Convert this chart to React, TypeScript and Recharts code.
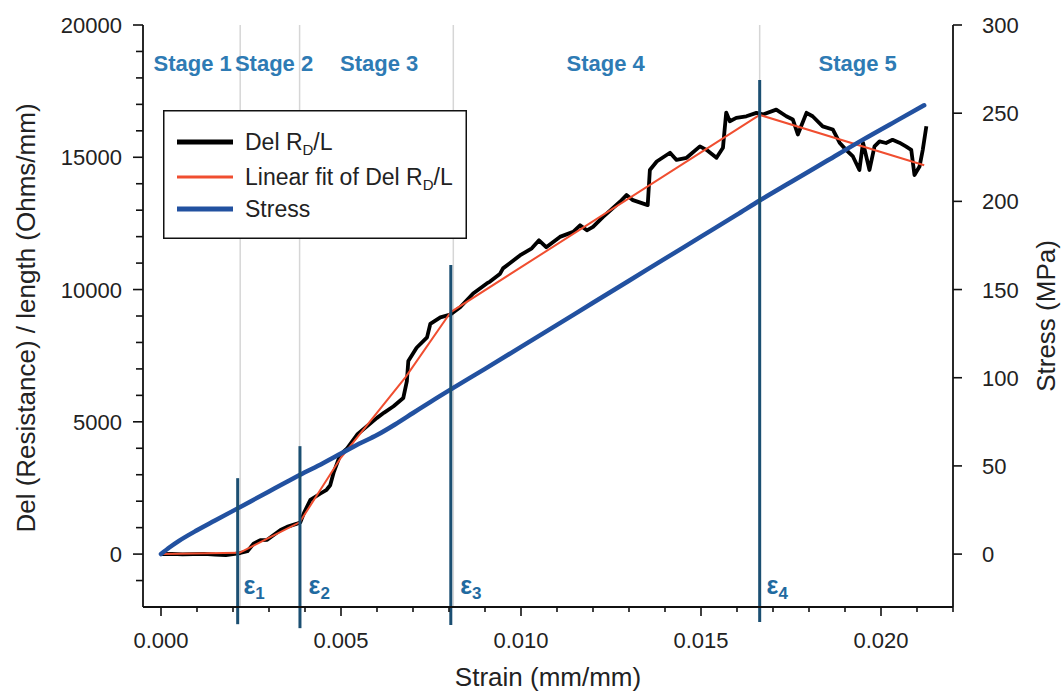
import React from 'react';
import {
  ComposedChart,
  Line,
  XAxis,
  YAxis,
  ReferenceLine,
  ReferenceDot,
  Legend,
} from 'recharts';

const FONT = '"Liberation Sans", Arial, Helvetica, sans-serif';
const STAGE_BLUE = '#2e7bb4';
const EPS_BLUE = '#1f6aa0';
const DARK_LINE = '#1b4f72';

// Del R_D/L measured curve (strain in mm/mm, value in Ohms/mm)
const DEL_STRAIN = [
  0, 0.0003, 0.0006, 0.0009, 0.0012, 0.0015, 0.0018, 0.002, 0.0022, 0.0024,
  0.00257, 0.00276, 0.00295, 0.00313, 0.00332, 0.0035, 0.00378, 0.00387, 0.00397, 0.00415,
  0.00443, 0.0046, 0.0047, 0.0048, 0.00498, 0.00517, 0.00545, 0.00572, 0.006, 0.0062,
  0.00646, 0.00673, 0.00683, 0.00687, 0.0071, 0.00739, 0.00748, 0.00776, 0.00803, 0.00831,
  0.00867, 0.00905, 0.00914, 0.00942, 0.0095, 0.00997, 0.0103, 0.0105, 0.0107, 0.01108,
  0.01145, 0.01164, 0.01183, 0.012, 0.01228, 0.01275, 0.01293, 0.01311, 0.01352, 0.01358,
  0.01377, 0.01414, 0.01432, 0.0146, 0.01497, 0.01515, 0.01543, 0.01561, 0.0157, 0.0158,
  0.01598, 0.01626, 0.01654, 0.01672, 0.01709, 0.01737, 0.01755, 0.01769, 0.01793, 0.0181,
  0.01838, 0.01866, 0.01885, 0.01903, 0.01922, 0.0194, 0.0195, 0.01968, 0.01982, 0.01996,
  0.02014, 0.02032, 0.02051, 0.02069, 0.02084, 0.02093, 0.02107, 0.02116, 0.02126,
];
const DEL_VALUE = [
  0, 10, -10, 0, 10, -20, -40, 0, 40, 110,
  390, 530, 540, 720, 910, 1030, 1150, 1200, 1550, 2050,
  2290, 2430, 2600, 3100, 3760, 4000, 4520, 4830, 5150, 5350,
  5590, 5900, 6540, 7300, 7800, 8190, 8700, 8950, 9050, 9330,
  9850, 10230, 10300, 10600, 10800, 11290, 11560, 11860, 11600, 11990,
  12180, 12430, 12240, 12370, 12750, 13320, 13570, 13380, 13190, 14520,
  14840, 15170, 14900, 14980, 15410, 15280, 14980, 15360, 16690, 16360,
  16490, 16550, 16680, 16620, 16800, 16550, 16430, 15860, 16680, 16550,
  16170, 16050, 15550, 15280, 15030, 14520, 15550, 14520, 15410, 15600,
  15540, 15660, 15550, 15410, 15280, 14330, 14650, 15280, 16170,
];

// piecewise linear fit of Del R_D/L
const FIT_STRAIN = [0, 0.00218, 0.00385, 0.005, 0.0068, 0.00805, 0.01663, 0.0212];
const FIT_VALUE = [0, 50, 1200, 3650, 6700, 9150, 16600, 14700];

// stress (MPa)
const STRESS_STRAIN = [
  0, 0.00025, 0.0005, 0.001, 0.0015, 0.002, 0.0025, 0.003, 0.0035, 0.00385,
  0.0045, 0.005, 0.0055, 0.006, 0.0065, 0.007, 0.0075, 0.00805, 0.009, 0.01,
  0.011, 0.012, 0.013, 0.014, 0.015, 0.016, 0.01663, 0.0175, 0.0185, 0.0195,
  0.0205, 0.0212,
];
const STRESS_VALUE = [
  0, 4, 7.5, 13.5, 19, 24.5, 30, 35.5, 41, 44.8,
  51.5, 57, 62.5, 67.5, 73.5, 80, 86.5, 93.4, 105, 117.5,
  130, 142.5, 155, 167.5, 180, 192.5, 200.5, 211, 223, 235,
  246.5, 254.5,
];

// stage boundaries
const GRID_STRAIN = [0.0022, 0.00385, 0.00812, 0.01663];
const EPS_STRAIN = [0.00213, 0.00386, 0.00805, 0.01663];
const EPS_TOP = [2870, 4080, 10930, 17920];
const EPS_BOTTOM = [-2650, -2800, -2680, -2570];
const EPS_LABEL_STRAIN = [0.00229, 0.0041, 0.00831, 0.01682];
const EPS_LABELS = ['1', '2', '3', '4'];

const STAGE_LABELS = ['Stage 1', 'Stage 2', 'Stage 3', 'Stage 4', 'Stage 5'];
const STAGE_CENTER = [0.00088, 0.00314, 0.00606, 0.01235, 0.01935];
const STAGE_Y = 18250;

const X_TICKS = [
  0, 0.001, 0.002, 0.003, 0.004, 0.005, 0.006, 0.007, 0.008, 0.009, 0.01, 0.011,
  0.012, 0.013, 0.014, 0.015, 0.016, 0.017, 0.018, 0.019, 0.02, 0.021, 0.022,
];
const X_LABELED = [0, 0.005, 0.01, 0.015, 0.02];
const LEFT_TICKS = [
  -1000, 0, 1000, 2000, 3000, 4000, 5000, 6000, 7000, 8000, 9000, 10000, 11000,
  12000, 13000, 14000, 15000, 16000, 17000, 18000, 19000, 20000,
];
const LEFT_LABELED = [0, 5000, 10000, 15000, 20000];
const RIGHT_TICKS = [0, 50, 100, 150, 200, 250, 300];

const delData = DEL_STRAIN.map((x, i) => ({ x, y: DEL_VALUE[i] }));
const fitData = FIT_STRAIN.map((x, i) => ({ x, y: FIT_VALUE[i] }));
const stressData = STRESS_STRAIN.map((x, i) => ({ x, s: STRESS_VALUE[i] }));

const textStyle = { fontFamily: FONT, fill: '#222' };

function XTick(p: any) {
  const v = p.payload.value;
  const major = X_LABELED.some((m) => Math.abs(m - v) < 1e-9);
  return (
    <g>
      <line x1={p.x} x2={p.x} y1={p.y} y2={p.y + (major ? 9 : 5)} stroke="#111" strokeWidth={1.6} />
      {major && (
        <text x={p.x} y={p.y + 41} textAnchor="middle" fontSize={22} style={textStyle}>
          {v.toFixed(3)}
        </text>
      )}
    </g>
  );
}

function LeftTick(p: any) {
  const v = p.payload.value;
  const major = LEFT_LABELED.includes(v);
  return (
    <g>
      <line x1={p.x - (major ? 10 : 7)} x2={p.x} y1={p.y} y2={p.y} stroke="#111" strokeWidth={1.6} />
      {major && (
        <text x={p.x - 21} y={p.y + 8} textAnchor="end" fontSize={22} style={textStyle}>
          {v}
        </text>
      )}
    </g>
  );
}

function RightTick(p: any) {
  const v = p.payload.value;
  return (
    <g>
      <line x1={p.x} x2={p.x + 9} y1={p.y} y2={p.y} stroke="#111" strokeWidth={1.6} />
      <text x={p.x + 29} y={p.y + 8} textAnchor="start" fontSize={22} style={textStyle}>
        {v}
      </text>
    </g>
  );
}

function renderLegend() {
  const rows = [
    { y: 32, color: '#000', w: 5, label: 'del' },
    { y: 67, color: '#f04e30', w: 3, label: 'fit' },
    { y: 99, color: '#2251a0', w: 5, label: 'stress' },
  ];
  return (
    <svg width={304} height={129}>
      <rect x={0.75} y={0.75} width={302.5} height={127.5} fill="#fff" stroke="#111" strokeWidth={1.5} />
      {rows.map((r) => (
        <g key={r.label}>
          <line x1={14} x2={70} y1={r.y} y2={r.y} stroke={r.color} strokeWidth={r.w} />
          <text x={82} y={r.y + 8} fontSize={23} style={textStyle}>
            {r.label === 'del' && (
              <>
                Del R<tspan dy={5} fontSize={15}>D</tspan>
                <tspan dy={-5}>/L</tspan>
              </>
            )}
            {r.label === 'fit' && (
              <>
                Linear fit of Del R<tspan dy={5} fontSize={15}>D</tspan>
                <tspan dy={-5}>/L</tspan>
              </>
            )}
            {r.label === 'stress' && 'Stress'}
          </text>
        </g>
      ))}
    </svg>
  );
}

export default function App() {
  return (
    <div style={{ position: 'absolute', left: 0, top: 0, background: '#fff' }}>
      <ComposedChart width={1064} height={692} margin={{ top: 25, right: 31, bottom: 35, left: 63 }}>
        <XAxis
          xAxisId="top"
          orientation="top"
          type="number"
          dataKey="x"
          domain={[-0.0005, 0.022]}
          height={0}
          tick={false}
          tickLine={false}
          axisLine={{ stroke: '#111', strokeWidth: 1.8 }}
        />
        <XAxis
          type="number"
          dataKey="x"
          domain={[-0.0005, 0.022]}
          allowDataOverflow
          ticks={X_TICKS}
          interval={0}
          height={50}
          tickSize={0}
          tickMargin={0}
          tickLine={false}
          tick={<XTick />}
          axisLine={{ stroke: '#111', strokeWidth: 1.8 }}
          label={{
            content: () => (
              <text x={548} y={686} textAnchor="middle" fontSize={26} style={textStyle}>
                Strain (mm/mm)
              </text>
            ),
          }}
        />
        <YAxis
          yAxisId="left"
          orientation="left"
          type="number"
          domain={[-2000, 20000]}
          allowDataOverflow
          ticks={LEFT_TICKS}
          interval={0}
          width={80}
          tickSize={0}
          tickMargin={0}
          tickLine={false}
          tick={<LeftTick />}
          axisLine={{ stroke: '#111', strokeWidth: 1.8 }}
          label={{
            content: () => (
              <text
                x={28}
                y={318}
                transform="rotate(-90 28 318)"
                textAnchor="middle"
                dominantBaseline="middle"
                fontSize={26}
                style={textStyle}
              >
                Del (Resistance) / length (Ohms/mm)
              </text>
            ),
          }}
        />
        <YAxis
          yAxisId="right"
          orientation="right"
          type="number"
          domain={[-30, 300]}
          allowDataOverflow
          ticks={RIGHT_TICKS}
          interval={0}
          width={80}
          tickSize={0}
          tickMargin={0}
          tickLine={false}
          tick={<RightTick />}
          axisLine={{ stroke: '#111', strokeWidth: 1.8 }}
          label={{
            content: () => (
              <text
                x={1048}
                y={316}
                transform="rotate(-90 1048 316)"
                textAnchor="middle"
                dominantBaseline="middle"
                fontSize={26}
                style={textStyle}
              >
                Stress (MPa)
              </text>
            ),
          }}
        />

        {GRID_STRAIN.map((x) => (
          <ReferenceLine key={'g' + x} x={x} yAxisId="left" stroke="#d6d6d6" strokeWidth={1.5} />
        ))}

        <Line
          data={delData}
          dataKey="y"
          yAxisId="left"
          type="linear"
          stroke="#000"
          strokeWidth={3.8}
          strokeLinejoin="round"
          dot={false}
          isAnimationActive={false}
          name="Del RD/L"
        />
        <Line
          data={fitData}
          dataKey="y"
          yAxisId="left"
          type="linear"
          stroke="#f04e30"
          strokeWidth={2}
          dot={false}
          isAnimationActive={false}
          name="Linear fit of Del RD/L"
        />
        <Line
          data={stressData}
          dataKey="s"
          yAxisId="right"
          type="monotone"
          stroke="#2251a0"
          strokeWidth={4.5}
          strokeLinecap="round"
          dot={false}
          isAnimationActive={false}
          name="Stress"
        />

        {EPS_STRAIN.map((x, i) => (
          <ReferenceLine
            key={'e' + i}
            yAxisId="left"
            ifOverflow="visible"
            segment={[
              { x, y: EPS_TOP[i] },
              { x, y: EPS_BOTTOM[i] },
            ]}
            stroke={DARK_LINE}
            strokeWidth={3}
          />
        ))}

        {EPS_LABEL_STRAIN.map((x, i) => (
          <ReferenceDot
            key={'el' + i}
            x={x}
            y={-1500}
            yAxisId="left"
            r={0}
            ifOverflow="visible"
            shape={(p: any) => (
              <text x={p.cx} y={p.cy} fontSize={25} fontWeight="bold" style={{ fontFamily: FONT, fill: EPS_BLUE }}>
                ε
                <tspan dy={5} fontSize={17}>
                  {EPS_LABELS[i]}
                </tspan>
              </text>
            )}
          />
        ))}

        {STAGE_LABELS.map((s, i) => (
          <ReferenceDot
            key={s}
            x={STAGE_CENTER[i]}
            y={STAGE_Y}
            yAxisId="left"
            r={0}
            ifOverflow="visible"
            shape={(p: any) => (
              <text
                x={p.cx}
                y={p.cy}
                textAnchor="middle"
                fontSize={22}
                fontWeight="bold"
                style={{ fontFamily: FONT, fill: STAGE_BLUE }}
              >
                {s}
              </text>
            )}
          />
        ))}

        <Legend
          layout="vertical"
          align="center"
          verticalAlign="middle"
          content={renderLegend}
          wrapperStyle={{ position: 'absolute', left: 163, top: 110, width: 304, height: 129 }}
        />
      </ComposedChart>
    </div>
  );
}
